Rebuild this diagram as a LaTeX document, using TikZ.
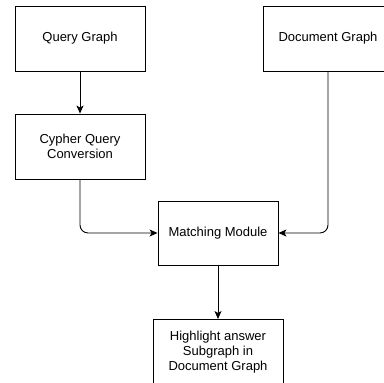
\documentclass[tikz,border=0pt]{standalone}
\usepackage{fontspec}
\setmainfont{Liberation Sans}
\usetikzlibrary{arrows.meta}
\begin{document}
\begin{tikzpicture}[x=1pt,y=-1pt,
  box/.style={draw=black,line width=0.9pt,fill=white,inner sep=0pt,align=center,
    font=\fontsize{13}{15}\selectfont},
  conn/.style={draw=black,line width=0.9pt,-{Stealth[length=8pt,width=7pt,inset=2pt]},rounded corners=8pt}]
\useasboundingbox (0,0) rectangle (384,383);
\begin{scope}
\clip (0,0) rectangle (384,383);
\node[box,minimum width=130pt,minimum height=65pt] (qg) at (80,38.5) {Query Graph};
\node[box,minimum width=130pt,minimum height=65pt] (cq) at (80,146.5) {Cypher Query\\Conversion};
\node[box,minimum width=130pt,minimum height=65pt] (dg) at (328,38.5) {Document Graph};
\node[box,minimum width=120pt,minimum height=64pt] (mm) at (218,233) {Matching Module};
\node[box,minimum width=130pt,minimum height=80pt,anchor=north] (hl) at (218,319) {};
\node[align=center,font=\fontsize{13}{15}\selectfont] (hlt) at (218,352) {Highlight answer\\Subgraph in\\Document Graph};
\end{scope}
\draw[conn] (qg) -- (cq);
\draw[conn] (cq.south) |- (mm.west);
\draw[conn] (dg.south) |- (mm.east);
\draw[conn] (mm.south) -- (hl.north);
\end{tikzpicture}
\end{document}
